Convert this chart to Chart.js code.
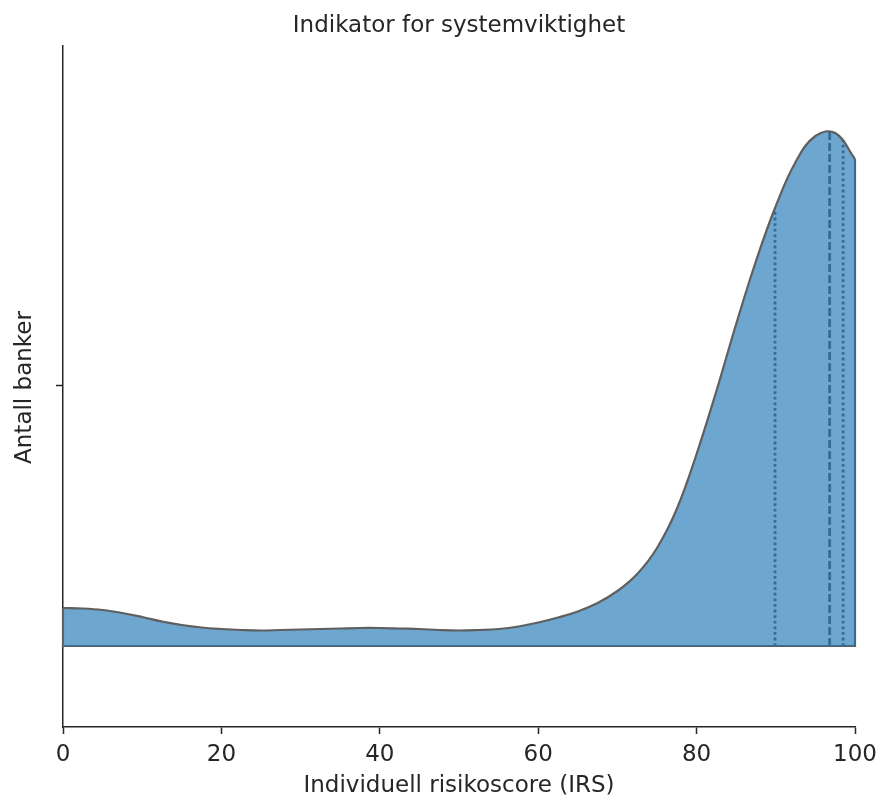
<!DOCTYPE html>
<html>
<head>
<meta charset="utf-8">
<script src="https://cdn.jsdelivr.net/npm/chart.js@4"></script>
<style>
  html, body { margin: 0; padding: 0; background: #fff; }
  #wrap { width: 880px; height: 798px; }
</style>
</head>
<body>
<div id="wrap"><canvas id="violin" width="880" height="798"></canvas></div>
<script>
// ─── DATA ──────────────────────────────────────────────────
const scores  = [0, 2.5, 5, 7.5, 10, 12.5, 15, 17.5, 20, 22.5, 25, 27.5, 30, 32.5, 35, 37.5,
                 40, 42.5, 45, 47.5, 50, 52.5, 55, 57.5, 60, 62.5, 65, 67.5, 70, 72.5, 75,
                 77.5, 80, 82.5, 85, 87.5, 90, 92.5, 95, 97.5, 100];
// relative density (half-violin height)
const density = [3.8, 3.75, 3.6, 3.3, 2.9, 2.45, 2.1, 1.85, 1.7, 1.6, 1.55, 1.6, 1.65, 1.7, 1.75, 1.8,
                 1.8, 1.75, 1.7, 1.6, 1.55, 1.6, 1.7, 1.95, 2.35, 2.85, 3.45, 4.3, 5.5, 7.2, 9.8,
                 13.7, 19.2, 25.5, 32.2, 38.5, 44.0, 48.4, 51.0, 51.3, 48.7];

const quartileNames  = ['q1', 'median', 'q3'];
const quartileScores = [89.9, 96.8, 98.5];
const quartileHeight = [43.6, 51.7, 50.6];

const xTicks   = [0, 20, 40, 60, 80, 100];
const yTickPos = [26.0];   // category centre of the violin, no label
const yRange   = [-8.1, 60.0];

const TITLE  = 'Indikator for systemviktighet';
const XLABEL = 'Individuell risikoscore (IRS)';
const YLABEL = 'Antall banker';

// ─── STYLE ────────────────────────────────────────────────
const FONT  = '"DejaVu Sans", "Liberation Sans", sans-serif';
const FSIZE = 23;
const INK   = '#262626';
const EDGE  = '#5f5f5f';
const FILL  = 'rgba(31,119,180,0.65)';

// ─── DATASETS ─────────────────────────────────────────────
const curve = scores.map((s, i) => ({ x: s, y: density[i] }));
const last  = scores.length - 1;
const edges = [
  { x: scores[0],    y: density[0] },
  { x: scores[0],    y: 0 },
  { x: scores[last], y: 0 },
  { x: scores[last], y: density[last] },
];

const quartileSets = quartileNames.map((name, i) => ({
  label: name,
  data: [{ x: quartileScores[i], y: 0 }, { x: quartileScores[i], y: quartileHeight[i] }],
  borderColor: '#5a5a5a',
  borderWidth: 2.8,
  borderDash: name === 'median' ? [8, 3] : [2.8, 2.8],
  pointRadius: 0,
  fill: false,
  tension: 0,
  clip: false,
}));

// ─── TEXT PLUGIN ──────────────────────────────────────────
const textPlugin = {
  id: 'texts',
  afterDraw(chart) {
    const { ctx, chartArea: a } = chart;
    const cx = (a.left + a.right) / 2;
    ctx.save();
    ctx.fillStyle = INK;
    ctx.font = `${FSIZE}px ${FONT}`;
    ctx.textAlign = 'center';
    ctx.textBaseline = 'middle';
    ctx.fillText(TITLE, cx, 26);
    ctx.fillText(XLABEL, cx, 786);
    ctx.translate(25, (a.top + a.bottom) / 2 + 1);
    ctx.rotate(-Math.PI / 2);
    ctx.fillText(YLABEL, 0, 0);
    ctx.restore();
  },
};

new Chart(document.getElementById('violin'), {
  type: 'line',
  data: {
    datasets: [
      {
        label: 'density',
        data: curve,
        borderColor: EDGE,
        backgroundColor: FILL,
        borderWidth: 2.2,
        fill: 'origin',
        pointRadius: 0,
        tension: 0.4,
        clip: false,
      },
      {
        label: 'edges',
        data: edges,
        borderColor: EDGE,
        borderWidth: 2.2,
        fill: false,
        pointRadius: 0,
        tension: 0,
        clip: false,
      },
      ...quartileSets,
    ],
  },
  options: {
    responsive: false,
    animation: false,
    layout: { padding: { top: 46, right: 25, left: 0, bottom: 0 } },
    plugins: {
      legend: { display: false },
      tooltip: { enabled: false },
      title: { display: false },
    },
    scales: {
      x: {
        type: 'linear',
        min: 0,
        max: 100,
        afterBuildTicks: s => { s.ticks = xTicks.map(v => ({ value: v })); },
        afterFit: s => { s.height = 71; s.paddingLeft = 0; s.paddingRight = 0; },
        ticks: { color: INK, font: { family: FONT, size: FSIZE }, padding: 7, maxRotation: 0 },
        grid: { drawOnChartArea: false, drawTicks: true, tickLength: 7, tickColor: INK, tickWidth: 1.5 },
        border: { display: true, color: INK, width: 1.5 },
      },
      y: {
        type: 'linear',
        min: yRange[0],
        max: yRange[1],
        afterBuildTicks: s => { s.ticks = yTickPos.map(v => ({ value: v })); },
        afterFit: s => { s.width = 63; s.paddingTop = 0; s.paddingBottom = 0; },
        ticks: { callback: () => '', padding: 0 },
        grid: { drawOnChartArea: false, drawTicks: true, tickLength: 7, tickColor: INK, tickWidth: 1.5 },
        border: { display: true, color: INK, width: 1.5 },
      },
    },
  },
  plugins: [textPlugin],
});
</script>
</body>
</html>
